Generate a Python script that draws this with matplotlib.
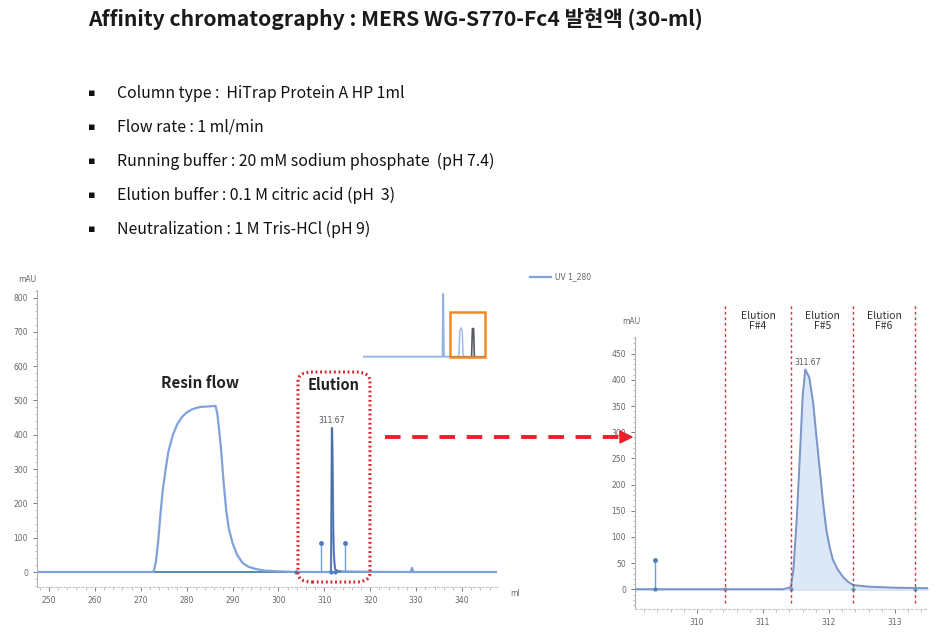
import matplotlib
matplotlib.use("Agg")
import matplotlib.pyplot as plt
from matplotlib.patches import FancyBboxPatch, Rectangle
from matplotlib.ticker import MultipleLocator

# ---------------- data ----------------
title_text = "Affinity chromatography : MERS WG-S770-Fc4 발현액 (30-ml)"
bullet_items = [
    "Column type :  HiTrap Protein A HP 1ml",
    "Flow rate : 1 ml/min",
    "Running buffer : 20 mM sodium phosphate  (pH 7.4)",
    "Elution buffer : 0.1 M citric acid (pH  3)",
    "Neutralization : 1 M Tris-HCl (pH 9)",
]

volume_ml = [247.4, 272.0, 272.8, 273.3, 273.8, 274.3, 274.8, 275.4, 276.0, 277.0,
             278.0, 279.0, 280.0, 281.0, 282.0, 283.0, 284.0, 285.0, 286.3, 286.7,
             287.1, 287.5, 288.0, 288.6, 289.2, 290.0, 291.0, 292.2, 293.5, 295.0,
             297.0, 300.0, 303.0, 309.0, 311.30, 311.42, 311.46, 311.51, 311.56, 311.60,
             311.64, 311.70, 311.76, 311.81, 311.86, 311.91, 311.96, 312.01, 312.06, 312.13,
             312.21, 312.29, 312.37, 312.60, 313.00, 313.50, 320.0, 328.8, 329.1, 329.4,
             347.6]
uv_mAU = [0, 0, 0, 30, 90, 170, 240, 297, 350, 400,
          432, 452, 465, 473, 478, 481, 482, 483, 484, 460,
          410, 356, 270, 181, 125, 84, 50, 26, 15, 9,
          4, 2, 0.5, 0, 0, 4, 37, 132, 260, 368,
          420, 405, 356, 290, 228, 165, 113, 80, 56, 38,
          24, 14, 8, 5, 3, 2, 0.5, 0, 12, 0,
          0]

peak_ml = 311.67
peak_mAU = 420
peak_label = "311.67"

# fraction markers (left overview chart)
marker_left_x = [309.3, 314.4]
marker_left_y = [85, 85]
marker_left_base = [303.8, 311.42, 312.37]
# fraction markers (zoomed chart)
marker_right_x = [309.36]
marker_right_y = [55]

fraction_edges = [310.42, 311.43, 312.37, 313.30]
fraction_labels = ["Elution\nF#4", "Elution\nF#5", "Elution\nF#6"]

# thumbnail overview (arbitrary run coordinates)
thumb_x = [0, 79.5, 80.2, 80.9, 81.6, 122]
thumb_y = [0, 0, 0.96, 0, 0, 0]
thumb_peak1_x = [95.0, 96.0, 96.8, 98.0, 99.2, 100.0, 101.0]
thumb_peak1_y = [0, 0.05, 0.40, 0.44, 0.40, 0.05, 0]
thumb_peak2_x = [108.6, 109.4, 110.6, 111.4]
thumb_peak2_y = [0, 0.43, 0.43, 0]
thumb_dark_x = [89, 122]
thumb_dark_y = [0, 0]

# ---------------- figure ----------------
W, H = 944, 636
fig = plt.figure(figsize=(W / 100, H / 100), dpi=100)
fig.patch.set_facecolor("white")

def fx(px):
    return px / W

def fy(py):
    return 1 - py / H

FONT = ["Noto Sans CJK KR", "DejaVu Sans"]

# title and bullets
fig.text(fx(88), fy(20), title_text, fontsize=15.2, fontweight="bold",
         family=FONT, va="center", ha="left", color="#1a1a1a")
row_y = [93, 127, 161, 195, 229]
for ry, item in zip(row_y, bullet_items):
    fig.text(fx(92), fy(ry), "▪", fontsize=8, family=["DejaVu Sans"],
             va="center", ha="center", color="#111111")
    fig.text(fx(117), fy(ry), item, fontsize=11.4, family=FONT,
             va="center", ha="left", color="#111111")

line_col = "#7fa3d9"
dark_col = "#4d6fa8"
base_col = "#4f7fa8"
tick_col = "#666666"

def style_axes(ax):
    for s in ["top", "right"]:
        ax.spines[s].set_visible(False)
    ax.spines["left"].set_color("#b0b0b0")
    ax.spines["left"].set_linewidth(0.8)
    ax.spines["bottom"].set_color("#c8c8c8")
    ax.spines["bottom"].set_linestyle((0, (2, 2)))
    ax.spines["bottom"].set_linewidth(0.8)
    ax.tick_params(axis="both", labelsize=5.5, colors=tick_col, length=3,
                   width=0.6, direction="out")
    ax.tick_params(axis="both", which="minor", length=1.8, width=0.5, colors="#aaaaaa")
    ax.set_facecolor("white")

# ---------------- left chart ----------------
axL = fig.add_axes([fx(37), fy(587), fx(497 - 37), (587 - 290) / H])
style_axes(axL)
axL.set_xlim(247.4, 347.6)
axL.set_ylim(-43.7, 822)
axL.xaxis.set_major_locator(MultipleLocator(10))
axL.xaxis.set_minor_locator(MultipleLocator(2))
axL.yaxis.set_major_locator(MultipleLocator(100))
axL.yaxis.set_minor_locator(MultipleLocator(20))
axL.set_xticks(range(250, 341, 10))
axL.axhline(0, color=base_col, lw=1.3, zorder=1)
axL.plot(volume_ml, uv_mAU, color=line_col, lw=1.6, zorder=2)
# darker trace over the elution peak
el_x = [v for v in volume_ml if 311.0 <= v <= 313.5]
el_y = [u for v, u in zip(volume_ml, uv_mAU) if 311.0 <= v <= 313.5]
axL.plot(el_x, el_y, color=dark_col, lw=1.0, zorder=3)
axL.vlines(marker_left_x, 0, marker_left_y, color="#6d9ee0", lw=1.0, zorder=3)
axL.plot(marker_left_x, marker_left_y, "o", ms=2.5, color="#4d7cc0", zorder=4)
axL.plot(marker_left_base, [0] * len(marker_left_base), "o", ms=2, color="#4d7cc0", zorder=4)
axL.text(peak_ml, peak_mAU + 8, peak_label, fontsize=5.5, color="#555555",
         ha="center", va="bottom")
fig.text(fx(18), fy(279), "mAU", fontsize=5.5, color=tick_col, ha="left", va="center")
fig.text(fx(510), fy(594), "ml", fontsize=5.5, color=tick_col, ha="left", va="center")

# annotations on left chart
fig.text(fx(200), fy(383), "Resin flow", fontsize=11, fontweight="bold",
         family=FONT, ha="center", va="center", color="#222222")
fig.text(fx(334), fy(385), "Elution", fontsize=10.5, fontweight="bold",
         family=FONT, ha="center", va="center", color="#222222")
box = FancyBboxPatch((fx(298), fy(582)), fx(370 - 298), (582 - 372) / H,
                     boxstyle="round,pad=0,rounding_size=0.015",
                     transform=fig.transFigure, fill=False, edgecolor="#e0202a",
                     lw=2.2, linestyle=(0, (0.6, 0.9)), zorder=10)
fig.add_artist(box)

# legend
fig.lines.append(plt.Line2D([fx(530), fx(551)], [fy(277), fy(277)],
                            transform=fig.transFigure, color=line_col, lw=1.6))
fig.text(fx(555), fy(277), "UV 1_280", fontsize=5.5, color=tick_col, ha="left", va="center")

# thumbnail
axT = fig.add_axes([fx(363), fy(358), fx(485 - 363), (358 - 290) / H])
axT.set_xlim(0, 122)
axT.set_ylim(-0.02, 1.02)
axT.axis("off")
axT.plot(thumb_x, thumb_y, color="#8fb3e3", lw=1.3)
axT.plot(thumb_peak1_x, thumb_peak1_y, color="#9fbde6", lw=1.1)
axT.plot(thumb_peak2_x, thumb_peak2_y, color="#555a66", lw=1.2)
axT.plot(thumb_dark_x, thumb_dark_y, color="#555a66", lw=1.1)
rect = Rectangle((fx(450), fy(357)), fx(485 - 450), (357 - 312) / H,
                 transform=fig.transFigure, fill=False, edgecolor="#f08a24", lw=1.8)
fig.add_artist(rect)

# dashed arrow
fig.add_artist(plt.Line2D([fx(385), fx(622)], [fy(437), fy(437)],
                          transform=fig.transFigure, color="#e8202a", lw=2.8,
                          linestyle=(0, (4, 3))))
fig.patches.append(plt.Polygon([[fx(620), fy(431)], [fx(632), fy(437)], [fx(620), fy(443)]],
                               closed=True, transform=fig.transFigure, color="#e8202a"))

# ---------------- right chart ----------------
axR = fig.add_axes([fx(635), fy(609), fx(928 - 635), (609 - 337) / H])
style_axes(axR)
axR.set_xlim(309.06, 313.5)
axR.set_ylim(-37.7, 482)
axR.set_xticks([310, 311, 312, 313])
axR.xaxis.set_minor_locator(MultipleLocator(0.2))
axR.yaxis.set_major_locator(MultipleLocator(50))
axR.yaxis.set_minor_locator(MultipleLocator(10))
axR.set_yticks(range(0, 451, 50))
axR.axhline(0, color=dark_col, lw=1.0, zorder=1)
axR.fill_between(volume_ml, uv_mAU, 0,
                 where=[311.38 <= v <= 313.5 for v in volume_ml],
                 color="#dce7f7", zorder=2, interpolate=True)
axR.plot(volume_ml, uv_mAU, color="#7a95c8", lw=1.4, zorder=3)
axR.vlines(marker_right_x, 0, marker_right_y, color="#6d9ee0", lw=1.0, zorder=3)
axR.plot(marker_right_x, marker_right_y, "o", ms=2.5, color="#4d7cc0", zorder=4)
axR.plot(marker_right_x, [0], "o", ms=2, color="#4d7cc0", zorder=4)
axR.plot(fraction_edges, [0] * len(fraction_edges), "o", ms=2, color="#7a95c8", zorder=4)
axR.text(peak_ml, peak_mAU + 4, peak_label, fontsize=5.5, color="#555555",
         ha="center", va="bottom")
for xe in fraction_edges:
    xf = axR.transData.transform((xe, 0))[0] / fig.dpi / fig.get_figwidth()
    fig.add_artist(plt.Line2D([xf, xf], [fy(603), fy(303)], transform=fig.transFigure,
                              color="#e0303a", lw=1.0, linestyle=(0, (2, 2))))
for i, lab in enumerate(fraction_labels):
    xc = (fraction_edges[i] + fraction_edges[i + 1]) / 2
    xf = axR.transData.transform((xc, 0))[0] / fig.dpi / fig.get_figwidth()
    fig.text(xf, fy(321), lab, fontsize=7.5, family=FONT, ha="center", va="center",
             color="#333333", linespacing=1.1)
fig.text(fx(622), fy(322), "mAU", fontsize=5.5, color=tick_col, ha="left", va="center")

fig.savefig("out.png", dpi=100)
